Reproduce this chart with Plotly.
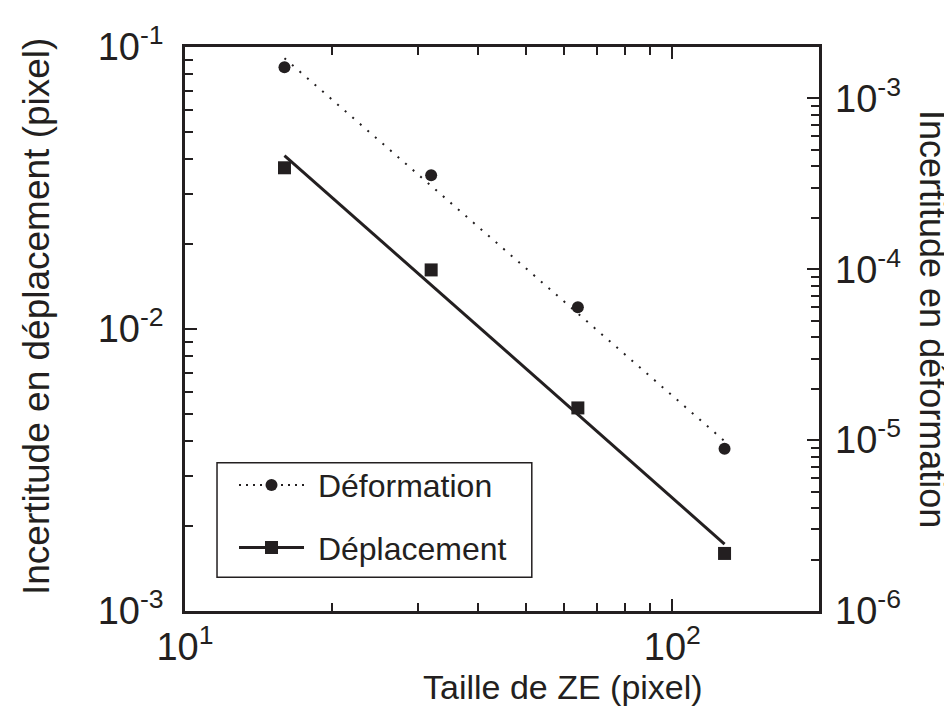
import numpy as np
import plotly.graph_objects as go

# ---- data ----
ze_size = [16, 32, 64, 128]                       # Taille de ZE (pixel)
deplacement = [0.0373, 0.0162, 0.00525, 0.00160]  # left axis (pixel)
deformation = [1.52e-3, 3.55e-4, 6.0e-5, 8.9e-6]  # right axis

x_ticks = [10, 100]
x_ticktext = ["10<sup>1</sup>", "10<sup>2</sup>"]
y_ticks = [1e-3, 1e-2, 1e-1]
y_ticktext = ["10<sup>-3</sup>", "10<sup>-2</sup>", "10<sup>-1</sup>"]
y2_ticks = [1e-6, 1e-5, 1e-4, 1e-3]
y2_ticktext = ["10<sup>-6</sup>", "10<sup>-5</sup>", "10<sup>-4</sup>", "10<sup>-3</sup>"]

INK = "#231f20"
FONT = "Liberation Sans, Arial, sans-serif"

def powerfit(x, y):
    lx, ly = np.log10(x), np.log10(y)
    a, b = np.polyfit(lx, ly, 1)
    xf = np.array([x[0], x[-1]], dtype=float)
    return xf, 10 ** (a * np.log10(xf) + b)

xd, yd = powerfit(ze_size, deplacement)
xf, yf = powerfit(ze_size, deformation)

def minors(lo, hi):
    out = []
    for e in range(lo, hi):
        for m in range(2, 10):
            out.append(m * 10.0 ** e)
    return out

fig = go.Figure()

# fit lines + markers
fig.add_trace(go.Scatter(x=xf, y=yf, yaxis="y2", mode="lines",
                         line=dict(color=INK, width=2, dash="2px,8px"),
                         showlegend=False, hoverinfo="skip"))
fig.add_trace(go.Scatter(x=ze_size, y=deformation, yaxis="y2", mode="markers",
                         marker=dict(symbol="circle", size=12, color=INK),
                         showlegend=False))
fig.add_trace(go.Scatter(x=xd, y=yd, mode="lines",
                         line=dict(color=INK, width=3),
                         showlegend=False, hoverinfo="skip"))
fig.add_trace(go.Scatter(x=ze_size, y=deplacement, mode="markers",
                         marker=dict(symbol="square", size=13, color=INK),
                         showlegend=False))

# legend entries
fig.add_trace(go.Scatter(x=[None], y=[None], mode="lines+markers",
                         name="\u00a0Déformation", legendgroup="a",
                         line=dict(color=INK, width=2, dash="2px,5px"),
                         marker=dict(symbol="circle", size=12, color=INK)))
fig.add_trace(go.Scatter(x=[None], y=[None], mode="lines+markers",
                         name="\u00a0Déplacement", legendgroup="b",
                         line=dict(color=INK, width=3),
                         marker=dict(symbol="square", size=13, color=INK)))

tickfont = dict(family=FONT, size=38, color=INK)

fig.update_layout(
    width=952, height=707,
    margin=dict(l=177, r=141, t=37, b=104),
    paper_bgcolor="white", plot_bgcolor="white",
    font=dict(family=FONT, color=INK),
    showlegend=True,
    legend=dict(x=0.0773, y=0.272, xanchor="left", yanchor="top",
                bgcolor="rgba(0,0,0,0)", borderwidth=0,
                font=dict(family=FONT, size=32, color=INK),
                itemwidth=65, tracegroupgap=18),
    shapes=[dict(type="rect", xref="paper", yref="paper",
                 x0=0.0505, x1=0.547, y0=0.060, y1=0.263,
                 line=dict(color=INK, width=1.5), fillcolor="white", layer="below")],
    xaxis=dict(type="log", range=[1, np.log10(200)],
               tickmode="array", tickvals=x_ticks, ticktext=x_ticktext,
               ticks="inside", ticklen=12, tickwidth=2, tickcolor=INK,
               minor=dict(tickmode="array", tickvals=minors(1, 3), ticks="inside",
                          ticklen=8, tickwidth=2, tickcolor=INK, showgrid=False),
               showline=True, linecolor=INK, linewidth=2.5, mirror="ticks",
               showgrid=False, zeroline=False, tickfont=tickfont,
               ticklabelstandoff=1),
    yaxis=dict(type="log", range=[-3, -1],
               tickmode="array", tickvals=y_ticks, ticktext=y_ticktext,
               ticks="inside", ticklen=12, tickwidth=2, tickcolor=INK,
               minor=dict(tickmode="array", tickvals=minors(-3, -1), ticks="inside",
                          ticklen=8, tickwidth=2, tickcolor=INK, showgrid=False),
               showline=True, linecolor=INK, linewidth=2.5, mirror=True,
               showgrid=False, zeroline=False, tickfont=tickfont,
               ticklabelstandoff=11),
    yaxis2=dict(type="log", range=[-6, np.log10(0.002)], overlaying="y", side="right",
                tickmode="array", tickvals=y2_ticks, ticktext=y2_ticktext,
                ticks="inside", ticklen=12, tickwidth=2, tickcolor=INK,
                minor=dict(tickmode="array", tickvals=minors(-6, -2), ticks="inside",
                           ticklen=8, tickwidth=2, tickcolor=INK, showgrid=False),
                showline=False, showgrid=False, zeroline=False, tickfont=tickfont,
                ticklabelstandoff=15),
    annotations=[
        dict(text="Incertitude en déplacement (pixel)", xref="paper", yref="paper",
             x=0, y=0.5, xshift=-149, yshift=12, textangle=-90, showarrow=False,
             xanchor="center", yanchor="middle",
             font=dict(family=FONT, size=37, color=INK)),
        dict(text="Incertitude en déformation", xref="paper", yref="paper",
             x=1, y=0.5, xshift=114, yshift=10, textangle=90, showarrow=False,
             xanchor="center", yanchor="middle",
             font=dict(family=FONT, size=36, color=INK)),
        dict(text="Taille de ZE (pixel)", xref="paper", yref="paper",
             x=0.596, y=0, yshift=-76, showarrow=False,
             xanchor="center", yanchor="middle",
             font=dict(family=FONT, size=34, color=INK)),
    ],
)

fig.write_html("out.html")
